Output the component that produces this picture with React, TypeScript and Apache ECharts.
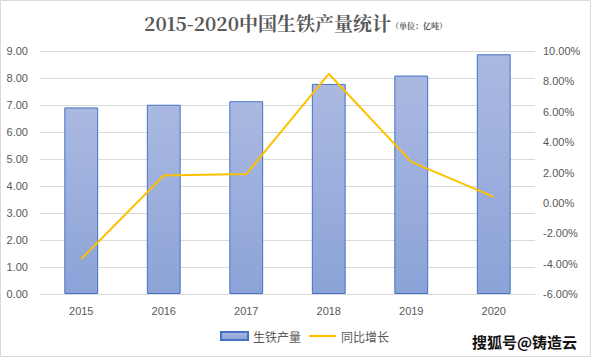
import React, { useEffect, useRef } from "react";
import * as echarts from "echarts";

const categories = ["2015", "2016", "2017", "2018", "2019", "2020"];
const output = [6.91, 7.01, 7.14, 7.78, 8.09, 8.88];
const growth = [-3.7, 1.8, 1.9, 8.5, 2.7, 0.4];
const leftTicks = { min: 0, max: 9, interval: 1 };
const rightTicks = { min: -6, max: 10, interval: 2 };

export default function App() {
  const ref = useRef<HTMLDivElement>(null);
  useEffect(() => {
    document.body.style.margin = "0";
    const chart = echarts.init(ref.current!, null, { renderer: "svg" });
    const grey = "#595959";
    chart.setOption({
      animation: false,
      backgroundColor: "#fff",
      title: {
        text: "2015-2020中国生铁产量统计{s|（单位：亿吨）}",
        left: "center",
        top: 8,
        textStyle: {
          fontFamily: "Noto Serif CJK SC, DejaVu Serif, serif",
          fontSize: 19,
          fontWeight: "bold",
          color: grey,
          rich: { s: { fontSize: 8, color: grey, fontWeight: "bold", padding: [6, 0, 0, 0] } },
        },
      },
      graphic: [
        {
          type: "rect",
          shape: { x: 0.5, y: 0.5, width: 590, height: 356 },
          style: { fill: "none", stroke: "#d9d9d9", lineWidth: 1 },
        },
        {
          type: "text",
          right: 14,
          bottom: 8,
          style: {
            text: "搜狐号@铸造云",
            font: "bold 15px 'Noto Sans CJK SC'",
            fill: "#111",
          },
        },
      ],
      legend: {
        bottom: 10,
        left: 215,
        itemGap: 8,
        itemWidth: 27,
        itemHeight: 8,
        textStyle: { color: grey, fontSize: 12, fontFamily: "Noto Sans CJK SC" },
        data: [
          { name: "生铁产量", icon: "rect" },
          { name: "同比增长", icon: "path://M0,0H1V0.08H0Z" },
        ],
      },
      grid: { left: 40, right: 56, top: 51, bottom: 63, containLabel: false },
      xAxis: {
        type: "category",
        data: categories,
        axisLine: { lineStyle: { color: "#d9d9d9" } },
        axisTick: { show: false },
        axisLabel: { color: grey, fontSize: 11, margin: 11 },
      },
      yAxis: [
        {
          type: "value",
          ...leftTicks,
          axisLabel: { color: grey, fontSize: 11, formatter: (v: number) => v.toFixed(2), margin: 12 },
          splitLine: { lineStyle: { color: "#d9d9d9" } },
          axisLine: { show: false },
          axisTick: { show: false },
        },
        {
          type: "value",
          ...rightTicks,
          position: "right",
          axisLabel: { color: grey, fontSize: 11, formatter: (v: number) => v.toFixed(2) + "%", margin: 8 },
          splitLine: { show: false },
          axisLine: { show: false },
          axisTick: { show: false },
        },
      ],
      series: [
        {
          name: "生铁产量",
          type: "bar",
          data: output,
          barWidth: "41%",
          itemStyle: {
            color: new echarts.graphic.LinearGradient(0, 0, 0, 1, [
              { offset: 0, color: "#AAB9E1" },
              { offset: 1, color: "#8CA3D8" },
            ]),
            borderColor: "#4472C4",
            borderWidth: 1,
          },
        },
        {
          name: "同比增长",
          type: "line",
          yAxisIndex: 1,
          data: growth,
          symbol: "none",
          lineStyle: { color: "#FFC000", width: 2 },
          itemStyle: { color: "#FFC000" },
        },
      ],
    });
    return () => chart.dispose();
  }, []);
  return <div ref={ref} style={{ position: "fixed", left: 0, top: 0, width: 591, height: 357 }} />;
}
